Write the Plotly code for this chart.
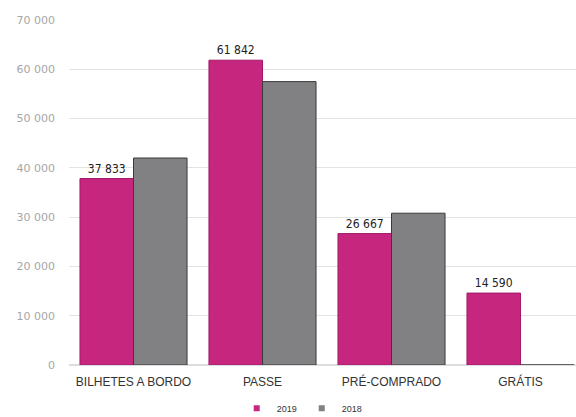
import plotly.graph_objects as go

categories = ["BILHETES A BORDO", "PASSE", "PRÉ-COMPRADO", "GRÁTIS"]
values_2019 = [37833, 61842, 26667, 14590]
values_2018 = [42000, 57500, 30800, 0]
labels_2019 = ["37 833", "61 842", "26 667", "14 590"]
tick_vals = [0, 10000, 20000, 30000, 40000, 50000, 60000, 70000]
tick_text = ["0", "10 000", "20 000", "30 000", "40 000", "50 000", "60 000", "70 000"]

C2019 = "#C7267F"
C2018 = "#818082"

fig = go.Figure()
fig.add_trace(go.Bar(
    name="2019", x=categories, y=values_2019, showlegend=False,
    marker=dict(color=C2019, line=dict(color="#A3186A", width=1)),
    text=labels_2019, textposition="outside",
    textfont=dict(family="DejaVu Sans Condensed, DejaVu Sans", size=12, color="#222222"),
    cliponaxis=False,
))
fig.add_trace(go.Bar(
    name="2018", x=categories, y=values_2018, showlegend=False,
    marker=dict(color=C2018, line=dict(color="#3a3a3a", width=1)),
))
# legend entries (compact square swatches)
fig.add_trace(go.Scatter(name="2019", x=[None], y=[None], mode="markers",
                         marker=dict(symbol="square", size=6, color=C2019)))
fig.add_trace(go.Scatter(name="2018", x=[None], y=[None], mode="markers",
                         marker=dict(symbol="square", size=6, color=C2018)))

fig.update_layout(
    width=576, height=417,
    margin=dict(l=69, r=0, t=20, b=52, autoexpand=False),
    paper_bgcolor="white", plot_bgcolor="white",
    barmode="group", bargap=0.17, bargroupgap=0,
    showlegend=True,
    legend=dict(orientation="h", x=0.46, xanchor="center", y=-0.125, yanchor="middle",
                font=dict(family="Liberation Sans Narrow, Liberation Sans", size=9, color="#333333"),
                itemwidth=30, traceorder="normal", tracegroupgap=0,
                bgcolor="rgba(0,0,0,0)"),
    xaxis=dict(range=[-0.5, -0.5 + 507/129], showline=False, ticks="",
               ticklabelstandoff=8,
               tickfont=dict(family="Liberation Sans Narrow, Liberation Sans", size=12, color="#333333")),
    yaxis=dict(range=[0, 70000], tickvals=tick_vals, ticktext=tick_text,
               showgrid=True, gridcolor="#E3E3E3", gridwidth=1, zeroline=True,
               zerolinecolor="#DDDDDD", ticks="", ticklen=0, ticklabelstandoff=13,
               tickfont=dict(family="DejaVu Sans, Roboto", size=11, color="#a6a6a6")),
)

fig.write_html("out.html")
